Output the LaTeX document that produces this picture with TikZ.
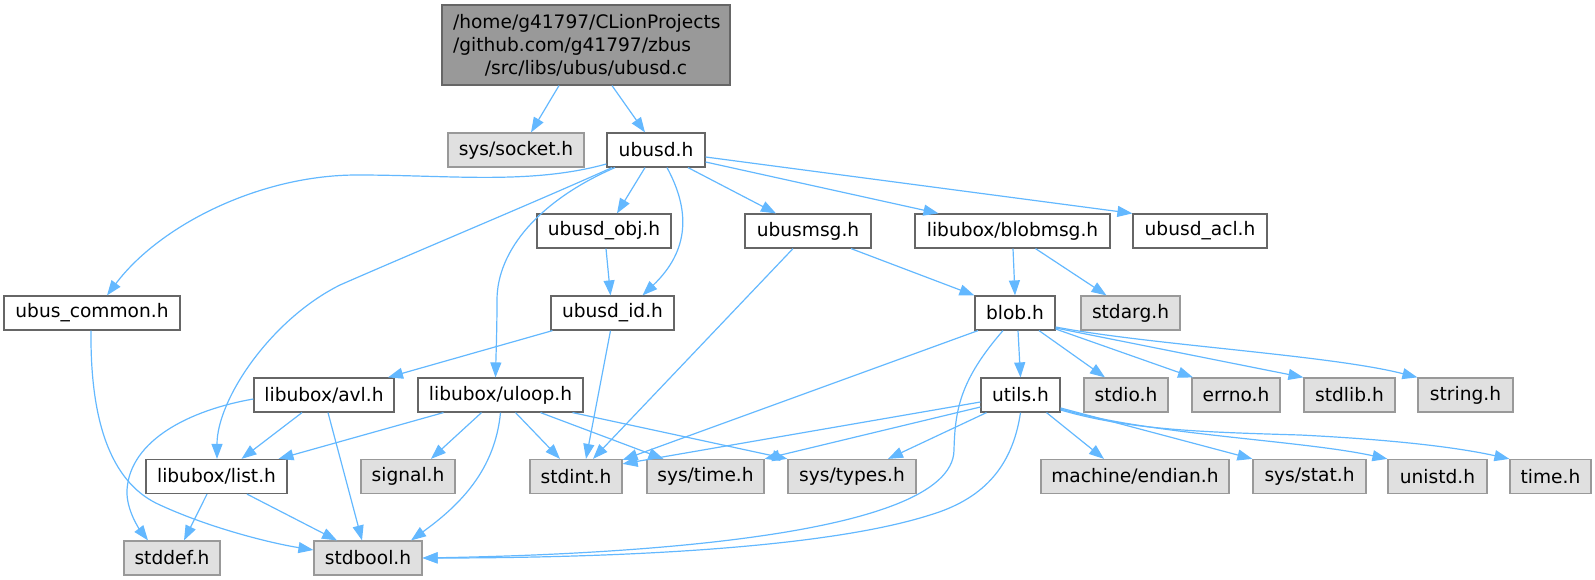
\documentclass[tikz,border=0pt]{standalone}
\usepackage{fontspec}
\setmainfont{DejaVu Sans}
\usetikzlibrary{arrows.meta}
\definecolor{edgec}{HTML}{63B8FF}
\definecolor{mainfill}{HTML}{999999}
\definecolor{mainborder}{HTML}{666666}
\definecolor{grayfill}{HTML}{E0E0E0}
\definecolor{grayborder}{HTML}{999999}
\definecolor{wborder}{HTML}{666666}
\begin{document}
\begin{tikzpicture}[x=1pt,y=-1pt,
  box/.style={draw, rectangle, inner sep=0pt, minimum height=34pt, line width=1.2pt, font=\fontsize{18.6}{23}\selectfont, text=black},
  wnode/.style={box, fill=white, draw=wborder},
  gnode/.style={box, fill=grayfill, draw=grayborder},
  mnode/.style={box, fill=mainfill, draw=mainborder, align=center},
  edge/.style={draw=edgec, line width=1.2pt, -{Triangle[length=15pt,width=11pt,fill=edgec]}}]
\useasboundingbox (0,0) rectangle (1595,580);
% row 1
\node[mnode, minimum width=288pt, minimum height=80pt] (main) at (586,45)
  {\makebox[266pt][l]{/home/g41797/CLionProjects}\\\makebox[266pt][l]{/github.com/g41797/zbus}\\\makebox[266pt][c]{/src/libs/ubus/ubusd.c}};
% row 2
\node[gnode, minimum width=136pt] (socket) at (516,150) {sys/socket.h};
\node[wnode, minimum width=98pt] (ubusd) at (656,150) {ubusd.h};
% row 3
\node[wnode, minimum width=134pt] (obj) at (604,231) {ubusd\_obj.h};
\node[wnode, minimum width=126pt] (ubusmsg) at (808,231) {ubusmsg.h};
\node[wnode, minimum width=195pt] (blobmsg) at (1012.5,231) {libubox/blobmsg.h};
\node[wnode, minimum width=134pt] (acl) at (1200,231) {ubusd\_acl.h};
% row 4
\node[wnode, minimum width=176pt] (common) at (92,313) {ubus\_common.h};
\node[wnode, minimum width=123pt] (uid) at (612.5,313) {ubusd\_id.h};
\node[wnode, minimum width=80pt] (blob) at (1015,313) {blob.h};
\node[gnode, minimum width=99pt] (stdarg) at (1130.5,313) {stdarg.h};
% row 5
\node[wnode, minimum width=140pt] (avl) at (324,395) {libubox/avl.h};
\node[wnode, minimum width=165pt] (uloop) at (500.5,395) {libubox/uloop.h};
\node[wnode, minimum width=79pt] (utils) at (1020.5,395) {utils.h};
\node[gnode, minimum width=84pt] (stdio) at (1126,395) {stdio.h};
\node[gnode, minimum width=88pt] (errno) at (1236,395) {errno.h};
\node[gnode, minimum width=91pt] (stdlib) at (1349.5,395) {stdlib.h};
\node[gnode, minimum width=95pt] (string) at (1465.5,395) {string.h};
% row 6
\node[wnode, minimum width=141pt] (list) at (216.5,476.5) {libubox/list.h};
\node[gnode, minimum width=94pt] (signal) at (408,476.5) {signal.h};
\node[gnode, minimum width=92pt] (stdint) at (576,476.5) {stdint.h};
\node[gnode, minimum width=117pt] (systime) at (705.5,476.5) {sys/time.h};
\node[gnode, minimum width=128pt] (systypes) at (852,476.5) {sys/types.h};
\node[gnode, minimum width=188pt] (endian) at (1135,476.5) {machine/endian.h};
\node[gnode, minimum width=113pt] (sysstat) at (1309.5,476.5) {sys/stat.h};
\node[gnode, minimum width=99pt] (unistd) at (1437.5,476.5) {unistd.h};
\node[gnode, minimum width=81pt] (time) at (1550.5,476.5) {time.h};
% row 7
\node[gnode, minimum width=96pt] (stddef) at (172,558) {stddef.h};
\node[gnode, minimum width=108pt] (stdbool) at (368,558) {stdbool.h};
% edges
\draw[edge] ([xshift=-27pt]main.south) -- ([xshift=15pt]socket.north);
\draw[edge] ([xshift=26pt]main.south) -- ([xshift=-11pt]ubusd.north);
\draw[edge] ([yshift=-14pt]ubusd.west) .. controls (530,185) and (450,175) .. (357,175) .. controls (260,175) and (160,225) .. ([xshift=15pt]common.north);
\draw[edge] ([xshift=-44pt]ubusd.south) .. controls (540,200) and (420,250) .. (340,285) .. controls (270,320) and (217,400) .. ([xshift=0.5pt]list.north);
\draw[edge] ([xshift=-41pt]ubusd.south) .. controls (540,200) and (497,250) .. (497,300) .. controls (497,330) and (496,355) .. ([xshift=-5pt]uloop.north);
\draw[edge] ([xshift=-11pt]ubusd.south) -- ([xshift=13pt]obj.north);
\draw[edge] ([xshift=11pt]ubusd.south) .. controls (690,210) and (690,250) .. ([xshift=30pt]uid.north);
\draw[edge] ([xshift=32pt]ubusd.south) -- ([xshift=-32pt]ubusmsg.north);
\draw[edge] ([yshift=-12pt]ubusd.east) -- ([xshift=-74pt]blobmsg.north);
\draw[edge] ([yshift=-7pt]ubusd.east) -- (acl.north west);
\draw[edge] ([xshift=2pt]obj.south) -- ([xshift=-2pt]uid.north);
\draw[edge] ([xshift=-15pt]ubusmsg.south) -- ([xshift=17pt]stdint.north);
\draw[edge] ([xshift=43pt]ubusmsg.south) -- (blob.north west);
\draw[edge] ([xshift=0.5pt]blobmsg.south) -- (blob.north);
\draw[edge] ([xshift=23pt]blobmsg.south) -- ([xshift=-24pt]stdarg.north);
\draw[edge] ([xshift=-1pt]common.south) .. controls (90,430) and (115,485) .. (160,505) .. controls (210,528) and (270,543) .. ([yshift=8pt]stdbool.west);
\draw[edge] ([xshift=-60pt]uid.south) -- ([xshift=64pt]avl.north);
\draw[edge] ([xshift=-2pt]uid.south) -- ([xshift=10pt]stdint.north);
\draw[edge] ([yshift=-4pt]avl.west) .. controls (190,410) and (130,440) .. (127,490) .. controls (126,510) and (140,530) .. ([xshift=-24pt]stddef.north);
\draw[edge] ([xshift=-22pt]avl.south) -- ([xshift=25pt]list.north);
\draw[edge] ([xshift=4pt]avl.south) -- ([xshift=-6pt]stdbool.north);
\draw[edge] ([xshift=-57pt]uloop.south) -- ([xshift=62pt]list.north);
\draw[edge] ([xshift=-19pt]uloop.south) -- ([xshift=23pt]signal.north);
\draw[edge] ([xshift=15pt]uloop.south) -- ([xshift=-16pt]stdint.north);
\draw[edge] (uloop.south) .. controls (495,470) and (460,505) .. ([xshift=43pt]stdbool.north);
\draw[edge] ([xshift=40pt]uloop.south) -- ([xshift=-42pt]systime.north);
\draw[edge] ([xshift=72pt]uloop.south) -- (systypes.north west);
\draw[edge] ([xshift=-9.5pt]list.south) -- ([xshift=12pt]stddef.north);
\draw[edge] ([xshift=30.5pt]list.south) -- ([xshift=-31pt]stdbool.north);
\draw[edge] ([xshift=-37pt]blob.south) -- ([yshift=-1pt]stdint.north east);
\draw[edge] ([xshift=-12pt]blob.south) .. controls (960,380) and (955,410) .. (954,450) .. controls (953,540) and (600,555) .. (stdbool.east);
\draw[edge] (utils.south) .. controls (1012,470) and (980,500) .. (930,515) .. controls (820,550) and (600,558) .. (stdbool.east);
\draw[edge] ([yshift=-7pt]utils.west) -- ([yshift=-5pt]stdint.north east);
\draw[edge] ([yshift=-12pt]utils.west) -- (systime.north east);
\draw[edge] ([xshift=-34pt]utils.south) -- ([xshift=36pt]systypes.north);
\draw[edge] ([xshift=26pt]utils.south) -- ([xshift=-31pt]endian.north);
\draw[edge] ([yshift=-13pt]utils.east) -- (sysstat.north west);
\draw[edge] ([yshift=-14pt]utils.east) .. controls (1150,435) and (1300,440) .. (unistd.north west);
\draw[edge] ([yshift=-15pt]utils.east) .. controls (1130,430) and (1200,432) .. (1300,435) .. controls (1400,440) and (1460,448) .. (time.north west);
\draw[edge] ([xshift=3pt]blob.south) -- (utils.north);
\draw[edge] ([xshift=24pt]blob.south) -- ([xshift=-21pt]stdio.north);
\draw[edge] ([yshift=-16pt]blob.east) -- ([xshift=-43pt]errno.north);
\draw[edge] ([yshift=-15pt]blob.east) -- (stdlib.north west);
\draw[edge] ([yshift=-14pt]blob.east) .. controls (1150,345) and (1330,355) .. (string.north west);
\end{tikzpicture}
\end{document}
